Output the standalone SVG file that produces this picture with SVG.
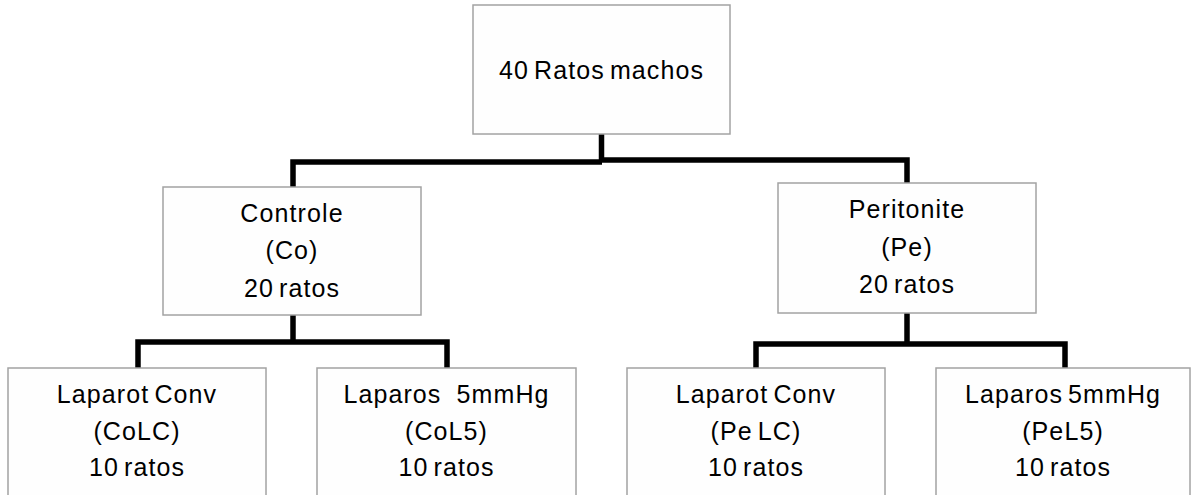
<svg xmlns="http://www.w3.org/2000/svg" width="1192" height="495" viewBox="0 0 1192 495">
  <style>
    .box { fill: #fefefe; stroke: #a3a3a3; stroke-width: 1.5; }
    .lbl { font-family: "Liberation Sans", Arial, sans-serif; font-size: 25px; letter-spacing: 1.1px; word-spacing: -3px; fill: #000; text-anchor: middle; white-space: pre; }
    .link { fill: none; stroke: #000; stroke-width: 5.5; stroke-linejoin: miter; stroke-linecap: butt; }
  </style>
  <rect width="1192" height="495" fill="#ffffff"/>

  <!-- tree connectors -->
  <g id="connectors">
    <path class="link" d="M601.5 134 V162"/>
    <path class="link" d="M293 187 V162 H602"/>
    <path class="link" d="M601 160 H907 V183"/>
    <path class="link" d="M293 315 V342"/>
    <path class="link" d="M138 368 V342 H447 V368"/>
    <path class="link" d="M907 313 V344"/>
    <path class="link" d="M756 368 V344 H1065 V368"/>
  </g>

  <g id="root">
    <rect class="box" x="473" y="5" width="257" height="129"/>
    <text class="lbl" x="601.5" y="79">40 Ratos machos</text>
  </g>

  <g id="controle">
    <rect class="box" x="163" y="187" width="258" height="128"/>
    <text class="lbl" x="292" y="221.7">Controle</text>
    <text class="lbl" x="292" y="259.2">(Co)</text>
    <text class="lbl" x="292" y="296.7">20 ratos</text>
  </g>

  <g id="peritonite">
    <rect class="box" x="778" y="183" width="258" height="130"/>
    <text class="lbl" x="907" y="218">Peritonite</text>
    <text class="lbl" x="907" y="255.5">(Pe)</text>
    <text class="lbl" x="907" y="293">20 ratos</text>
  </g>

  <g id="colc">
    <rect class="box" x="8" y="368" width="258" height="130"/>
    <text class="lbl" x="137" y="403">Laparot Conv</text>
    <text class="lbl" x="137" y="439.5">(CoLC)</text>
    <text class="lbl" x="137" y="476">10 ratos</text>
  </g>

  <g id="col5">
    <rect class="box" x="317" y="368" width="259" height="130"/>
    <text class="lbl" x="446.5" y="403">Laparos   5mmHg</text>
    <text class="lbl" x="446.5" y="439.5">(CoL5)</text>
    <text class="lbl" x="446.5" y="476">10 ratos</text>
  </g>

  <g id="pelc">
    <rect class="box" x="627" y="368" width="258" height="130"/>
    <text class="lbl" x="756" y="403">Laparot Conv</text>
    <text class="lbl" x="756" y="439.5">(Pe LC)</text>
    <text class="lbl" x="756" y="476">10 ratos</text>
  </g>

  <g id="pel5">
    <rect class="box" x="936" y="368" width="254" height="130"/>
    <text class="lbl" x="1063" y="403">Laparos 5mmHg</text>
    <text class="lbl" x="1063" y="439.5">(PeL5)</text>
    <text class="lbl" x="1063" y="476">10 ratos</text>
  </g>
</svg>
